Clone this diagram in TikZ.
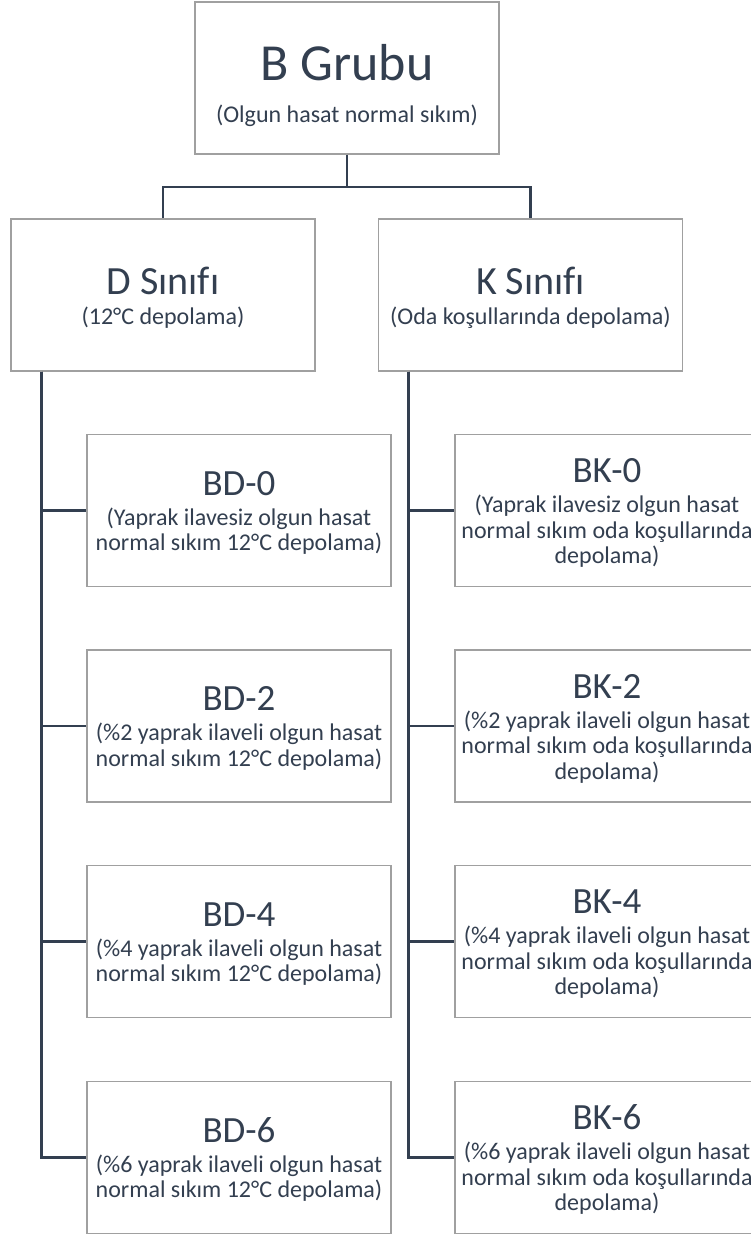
\documentclass[tikz,border=0pt]{standalone}
\usepackage{fontspec}
\setmainfont{Carlito}[Ligatures=NoCommon]
\usepackage{xcolor}
\usepackage{tikz}
\usetikzlibrary{positioning, calc}
\definecolor{inkdark}{HTML}{333F50}
\definecolor{edgegray}{HTML}{A0A0A0}

\begin{document}
\begin{tikzpicture}[x=1pt, y=-1pt,
    card/.style={rectangle, draw=edgegray, line width=1.2pt, fill=white, minimum width=304pt, minimum height=152pt, inner sep=0pt, align=center, text=inkdark, font=\fontsize{24}{25.5}\selectfont},
    link/.style={draw=inkdark, line width=2.8pt}
]
\useasboundingbox (0,0) rectangle (751,1234);

% group and classes
\node[card] (grp) at (347, 78) {\rule{0pt}{51pt}{\fontsize{52}{52}\selectfont B Grubu}\\[16.5pt](Olgun hasat normal sıkım)};
\node[card] (dcls) at (163, 295) {\rule{0pt}{33pt}{\fontsize{40}{40}\selectfont D Sınıfı}\\[4.5pt](12°C depolama)};
\node[card] (kcls) at (530.5, 295) {\rule{0pt}{33pt}{\fontsize{40}{40}\selectfont K Sınıfı}\\[4.5pt](Oda koşullarında depolama)};

% D samples
\node[card] (bd0) at (239, 510.5) {\rule{0pt}{29pt}{\fontsize{37}{37}\selectfont BD-0}\\[4.5pt](Yaprak ilavesiz olgun hasat\\normal sıkım 12°C depolama)};
\node[card] (bd2) at (239, 726) {\rule{0pt}{29pt}{\fontsize{37}{37}\selectfont BD-2}\\[4.5pt](\%2 yaprak ilaveli olgun hasat\\normal sıkım 12°C depolama)};
\node[card] (bd4) at (239, 941.5) {\rule{0pt}{29pt}{\fontsize{37}{37}\selectfont BD-4}\\[4.5pt](\%4 yaprak ilaveli olgun hasat\\normal sıkım 12°C depolama)};
\node[card] (bd6) at (239, 1157.5) {\rule{0pt}{29pt}{\fontsize{37}{37}\selectfont BD-6}\\[4.5pt](\%6 yaprak ilaveli olgun hasat\\normal sıkım 12°C depolama)};

% K samples
\node[card] (bk0) at (607, 510.5) {\rule{0pt}{29pt}{\fontsize{37}{37}\selectfont BK-0}\\[4.5pt](Yaprak ilavesiz olgun hasat\\normal sıkım oda koşullarında\\depolama)};
\node[card] (bk2) at (607, 726) {\rule{0pt}{29pt}{\fontsize{37}{37}\selectfont BK-2}\\[4.5pt](\%2 yaprak ilaveli olgun hasat\\normal sıkım oda koşullarında\\depolama)};
\node[card] (bk4) at (607, 941.5) {\rule{0pt}{29pt}{\fontsize{37}{37}\selectfont BK-4}\\[4.5pt](\%4 yaprak ilaveli olgun hasat\\normal sıkım oda koşullarında\\depolama)};
\node[card] (bk6) at (607, 1157.5) {\rule{0pt}{29pt}{\fontsize{37}{37}\selectfont BK-6}\\[4.5pt](\%6 yaprak ilaveli olgun hasat\\normal sıkım oda koşullarında\\depolama)};

% connectors
\coordinate (bar) at (347, 187);
\coordinate (dtrunk) at ([xshift=30.7pt]dcls.south west);
\coordinate (ktrunk) at ([xshift=30.3pt]kcls.south west);

\draw[link] (grp.south) -- (bar) -| (dcls.north);
\draw[link] (bar) -| (kcls.north);

\draw[link] (dtrunk) |- (bd0.west);
\draw[link] (dtrunk) |- (bd2.west);
\draw[link] (dtrunk) |- (bd4.west);
\draw[link] (dtrunk) |- (bd6.west);

\draw[link] (ktrunk) |- (bk0.west);
\draw[link] (ktrunk) |- (bk2.west);
\draw[link] (ktrunk) |- (bk4.west);
\draw[link] (ktrunk) |- (bk6.west);

\end{tikzpicture}
\end{document}
